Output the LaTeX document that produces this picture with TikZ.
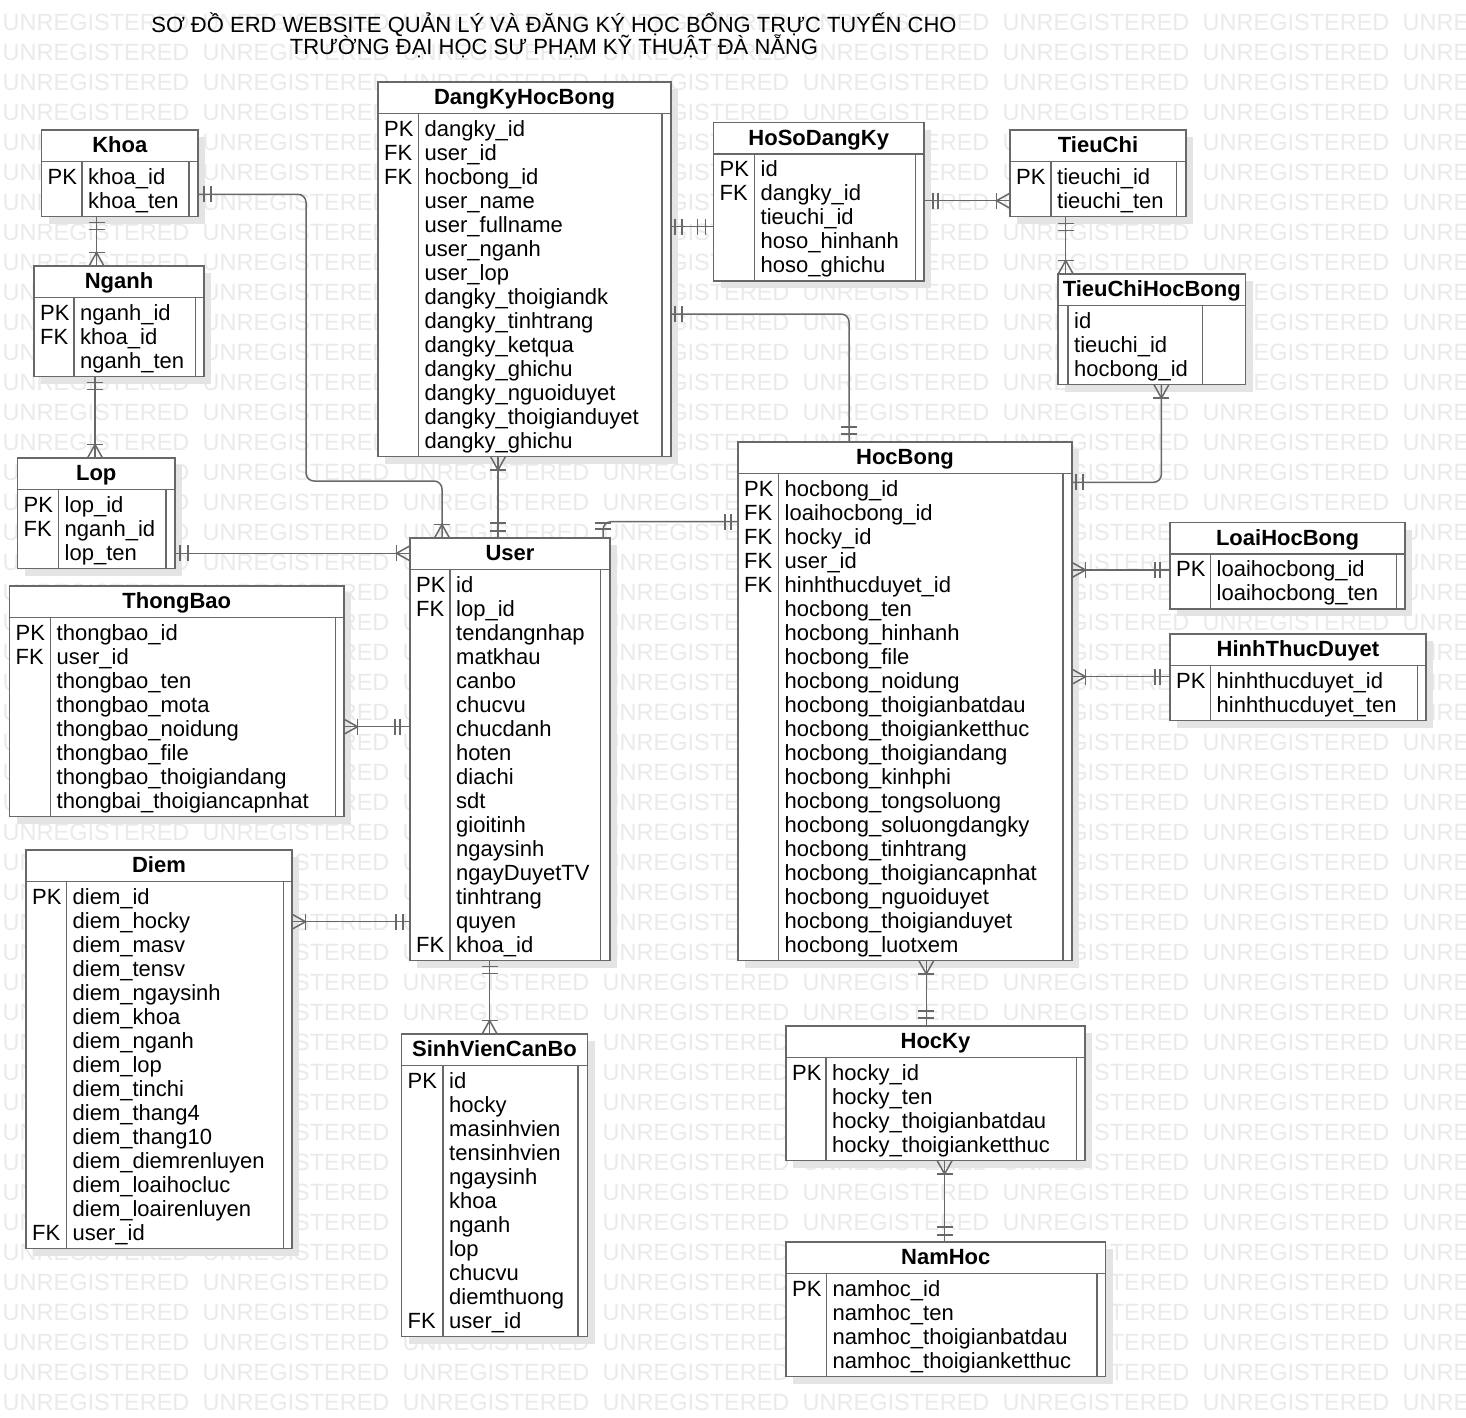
\documentclass[tikz,border=0pt]{standalone}
\usepackage{fontspec}
\setmainfont{Liberation Sans}
\usetikzlibrary{calc}

\definecolor{linec}{HTML}{686868}
\definecolor{shadowc}{HTML}{E4E4E4}
\definecolor{wmc}{HTML}{EAEAEA}

\pgfdeclarelayer{wmark}
\pgfdeclarelayer{shade}
\pgfsetlayers{wmark,shade,main}

\tikzset{
  conn/.style={draw=linec, line width=1.5pt},
  tblbox/.style={draw=linec, fill=white, line width=1.5pt, rectangle, inner sep=0pt, outer sep=0pt},
  tblline/.style={draw=linec, line width=1.5pt},
  hdr/.style={font=\fontsize{22}{24}\selectfont\bfseries, inner sep=0pt, anchor=base},
  fld/.style={font=\fontsize{22}{24}\selectfont, inner sep=0pt, anchor=base west},
  wm/.style={font=\fontsize{23.5}{24}\selectfont, text=wmc, inner sep=0pt, anchor=base west},
  ttl/.style={font=\fontsize{22}{24}\selectfont, inner sep=0pt, anchor=base},
}

% #1 name, #2 left, #3 top, #4 right, #5 key divider x, #6 inner right x,
% #7 title, #8 number of rows, #9 rows as key/field
\newcommand\erdtable[9]{%
  \pgfmathsetmacro\tbot{#3+38.5+24*#8}%
  \begin{pgfonlayer}{shade}
    \fill[shadowc] (#2+7,#3+7) rectangle (#4+7,\tbot+7);
  \end{pgfonlayer}
  \node[tblbox, anchor=north west, minimum width={#4-#2}, minimum height={\tbot-#3}] (#1) at (#2,#3) {};
  \draw[tblline] (#2,#3+31.5) -- (#4,#3+31.5)
                 (#5,#3+31.5) -- (#5,\tbot)
                 (#6,#3+31.5) -- (#6,\tbot);
  \node[hdr] (#1-title) at ({(#2+#4)/2},#3+22.5) {#7};
  \foreach \k/\f [count=\i from 0] in {#9} {
    \node[fld] (#1-key-\i) at (#2+6,#3+54+24*\i) {\k};
    \node[fld] (#1-col-\i) at (#5+6,#3+54+24*\i) {\f};
  }%
}

% mandatory-one end: two bars at distances #3 and #4 from the entity border
\newcommand\onemark[4]{%
  \begin{scope}[shift={(#1)}, rotate=#2]
    \draw[conn] (#3,-8) -- (#3,8) (#4,-8) -- (#4,8);
  \end{scope}}

% one-or-many end: crow's foot with a bar
\newcommand\manymark[2]{%
  \begin{scope}[shift={(#1)}, rotate=#2]
    \draw[conn] (13.5,-8) -- (13.5,8);
    \draw[conn] (0,-7.5) -- (13.5,0) -- (0,7.5);
  \end{scope}}

\begin{document}
\begin{tikzpicture}[x=1pt,y=-1pt]
\useasboundingbox (0,0) rectangle (1466,1417);

% background and watermark rows
\begin{pgfonlayer}{wmark}
  \fill[white] (0,0) rectangle (1466,1417);
  \begin{scope}
    \clip (0,0) rectangle (1466,1417);
    \foreach \r in {0,...,46}{
      \foreach \c in {0,...,7}{
        \node[wm] (wm-\r-\c) at (2.5+200*\c, 30.9+30*\r) {UNREGISTERED};
      }
    }
  \end{scope}
\end{pgfonlayer}

% title
\node[ttl] (title1) at (554,32.5) {SƠ ĐỒ ERD WEBSITE QUẢN LÝ VÀ ĐĂNG KÝ HỌC BỔNG TRỰC TUYẾN CHO};
\node[ttl] (title2) at (554,54) {TRƯỜNG ĐẠI HỌC SƯ PHẠM KỸ THUẬT ĐÀ NẴNG};

% entities
\erdtable{khoa}{41.5}{130}{198}{82}{189}{Khoa}{2}{PK/khoa\_id, {}/khoa\_ten}
\erdtable{nganh}{34}{266}{204}{74}{195.5}{Nganh}{3}{PK/nganh\_id, FK/khoa\_id, {}/nganh\_ten}
\erdtable{lop}{17.5}{458}{175}{58.5}{166}{Lop}{3}{PK/lop\_id, FK/nganh\_id, {}/lop\_ten}
\erdtable{dkhb}{378}{82}{671}{418.5}{662}{DangKyHocBong}{14}{PK/dangky\_id, FK/user\_id, FK/hocbong\_id,
  {}/user\_name, {}/user\_fullname, {}/user\_nganh, {}/user\_lop, {}/dangky\_thoigiandk,
  {}/dangky\_tinhtrang, {}/dangky\_ketqua, {}/dangky\_ghichu, {}/dangky\_nguoiduyet,
  {}/dangky\_thoigianduyet, {}/dangky\_ghichu}
\erdtable{hoso}{713.5}{122.5}{924}{754.5}{915.5}{HoSoDangKy}{5}{PK/id, FK/dangky\_id, {}/tieuchi\_id,
  {}/hoso\_hinhanh, {}/hoso\_ghichu}
\erdtable{tieuchi}{1010}{130}{1186}{1051}{1176.5}{TieuChi}{2}{PK/tieuchi\_id, {}/tieuchi\_ten}
\erdtable{tchb}{1058}{274}{1245.5}{1068}{1202.5}{TieuChiHocBong}{3}{{}/id, {}/tieuchi\_id, {}/hocbong\_id}
\erdtable{hocbong}{738}{442}{1072}{778.5}{1063}{HocBong}{20}{PK/hocbong\_id, FK/loaihocbong\_id,
  FK/hocky\_id, FK/user\_id, FK/hinhthucduyet\_id, {}/hocbong\_ten, {}/hocbong\_hinhanh,
  {}/hocbong\_file, {}/hocbong\_noidung, {}/hocbong\_thoigianbatdau, {}/hocbong\_thoigianketthuc,
  {}/hocbong\_thoigiandang, {}/hocbong\_kinhphi, {}/hocbong\_tongsoluong, {}/hocbong\_soluongdangky,
  {}/hocbong\_tinhtrang, {}/hocbong\_thoigiancapnhat, {}/hocbong\_nguoiduyet,
  {}/hocbong\_thoigianduyet, {}/hocbong\_luotxem}
\erdtable{user}{410}{538}{610}{450}{600.5}{User}{16}{PK/id, FK/lop\_id, {}/tendangnhap, {}/matkhau,
  {}/canbo, {}/chucvu, {}/chucdanh, {}/hoten, {}/diachi, {}/sdt, {}/gioitinh, {}/ngaysinh,
  {}/ngayDuyetTV, {}/tinhtrang, {}/quyen, FK/khoa\_id}
\erdtable{loaihb}{1170}{522.5}{1405}{1210.5}{1396.5}{LoaiHocBong}{2}{PK/loaihocbong\_id, {}/loaihocbong\_ten}
\erdtable{htd}{1170}{634}{1426}{1210.5}{1417.5}{HinhThucDuyet}{2}{PK/hinhthucduyet\_id, {}/hinhthucduyet\_ten}
\erdtable{thongbao}{9.5}{586}{344}{50.5}{335.5}{ThongBao}{8}{PK/thongbao\_id, FK/user\_id,
  {}/thongbao\_ten, {}/thongbao\_mota, {}/thongbao\_noidung, {}/thongbao\_file,
  {}/thongbao\_thoigiandang, {}/thongbai\_thoigiancapnhat}
\erdtable{diem}{26}{850}{292}{66.5}{283.5}{Diem}{15}{PK/diem\_id, {}/diem\_hocky, {}/diem\_masv,
  {}/diem\_tensv, {}/diem\_ngaysinh, {}/diem\_khoa, {}/diem\_nganh, {}/diem\_lop, {}/diem\_tinchi,
  {}/diem\_thang4, {}/diem\_thang10, {}/diem\_diemrenluyen, {}/diem\_loaihocluc,
  {}/diem\_loairenluyen, FK/user\_id}
\erdtable{svcb}{401.5}{1034}{587.5}{443}{578}{SinhVienCanBo}{11}{PK/id, {}/hocky, {}/masinhvien,
  {}/tensinhvien, {}/ngaysinh, {}/khoa, {}/nganh, {}/lop, {}/chucvu, {}/diemthuong, FK/user\_id}
\erdtable{hocky}{786}{1026}{1085}{826}{1076.5}{HocKy}{4}{PK/hocky\_id, {}/hocky\_ten,
  {}/hocky\_thoigianbatdau, {}/hocky\_thoigianketthuc}
\erdtable{namhoc}{786}{1242}{1105.5}{826.5}{1097}{NamHoc}{4}{PK/namhoc\_id, {}/namhoc\_ten,
  {}/namhoc\_thoigianbatdau, {}/namhoc\_thoigianketthuc}

% connector end points on the entity borders
\coordinate (c1a)  at ($(khoa.north east)+(0,64.3)$);
\coordinate (c1b)  at ($(user.north west)+(32,0)$);
\coordinate (c2a)  at ($(khoa.south west)+(55,0)$);
\coordinate (c2b)  at ($(nganh.north west)+(62.5,0)$);
\coordinate (c3a)  at ($(nganh.south west)+(61,0)$);
\coordinate (c3b)  at ($(lop.north west)+(77.5,0)$);
\coordinate (c4a)  at ($(lop.north east)+(0,95.3)$);
\coordinate (c4b)  at ($(user.north west)+(0,15.3)$);
\coordinate (c5a)  at ($(dkhb.south west)+(120,0)$);
\coordinate (c5b)  at ($(user.north west)+(88,0)$);
\coordinate (c6a)  at ($(dkhb.north east)+(0,144.7)$);
\coordinate (c6b)  at ($(hoso.north west)+(0,104.2)$);
\coordinate (c7a)  at ($(hoso.north east)+(0,78.2)$);
\coordinate (c7b)  at ($(tieuchi.north west)+(0,70.7)$);
\coordinate (c8a)  at ($(tieuchi.south west)+(55.7,0)$);
\coordinate (c8b)  at ($(tchb.north west)+(7.7,0)$);
\coordinate (c9a)  at ($(tchb.south west)+(103.4,0)$);
\coordinate (c9b)  at ($(hocbong.north east)+(0,40.3)$);
\coordinate (c10a) at ($(dkhb.north east)+(0,232)$);
\coordinate (c10b) at ($(hocbong.north west)+(111,0)$);
\coordinate (c11a) at ($(user.north west)+(193,0)$);
\coordinate (c11b) at ($(hocbong.north west)+(0,79.7)$);
\coordinate (c12a) at ($(hocbong.north east)+(0,128)$);
\coordinate (c12b) at ($(loaihb.north west)+(0,47.5)$);
\coordinate (c13a) at ($(hocbong.north east)+(0,234.7)$);
\coordinate (c13b) at ($(htd.north west)+(0,42.7)$);
\coordinate (c14a) at ($(user.north west)+(0,188.7)$);
\coordinate (c14b) at ($(thongbao.north east)+(0,140.7)$);
\coordinate (c15a) at ($(user.north west)+(0,383.7)$);
\coordinate (c15b) at ($(diem.north east)+(0,71.7)$);
\coordinate (c16a) at ($(user.south west)+(79.6,0)$);
\coordinate (c16b) at ($(svcb.north west)+(88.1,0)$);
\coordinate (c17a) at ($(hocbong.south west)+(188.3,0)$);
\coordinate (c17b) at ($(hocky.north west)+(140.3,0)$);
\coordinate (c18a) at ($(hocky.south west)+(158.6,0)$);
\coordinate (c18b) at ($(namhoc.north west)+(158.6,0)$);

% relationships
\draw[conn, rounded corners=8pt] (c1a) -| (306,481) -| (c1b);
\draw[conn] (c2a) -- (c2b);
\draw[conn] (c3a) -- (c3b);
\draw[conn] (c4a) -- (c4b);
\draw[conn] (c5a) -- (c5b);
\draw[conn] (c6a) -- (c6b);
\draw[conn] (c7a) -- (c7b);
\draw[conn] (c8a) -- (c8b);
\draw[conn, rounded corners=8pt] (c9a) |- (c9b);
\draw[conn, rounded corners=8pt] (c10a) -| (c10b);
\draw[conn, rounded corners=8pt] (c11a) |- (c11b);
\draw[conn] (c12a) -- (c12b);
\draw[conn] (c13a) -- (c13b);
\draw[conn] (c14a) -- (c14b);
\draw[conn] (c15a) -- (c15b);
\draw[conn] (c16a) -- (c16b);
\draw[conn] (c17a) -- (c17b);
\draw[conn] (c18a) -- (c18b);

% cardinality marks
\onemark{c1a}{0}{6}{13}     \manymark{c1b}{90}
\onemark{c2a}{-90}{6}{13}   \manymark{c2b}{90}
\onemark{c3a}{-90}{6}{13}   \manymark{c3b}{90}
\onemark{c4a}{0}{5}{13}     \manymark{c4b}{180}
\manymark{c5a}{-90}         \onemark{c5b}{90}{7}{15}
\onemark{c6a}{0}{4}{11}     \onemark{c6b}{180}{8}{16}
\onemark{c7a}{0}{9}{14}     \manymark{c7b}{180}
\onemark{c8a}{-90}{7}{14}   \manymark{c8b}{90}
\manymark{c9a}{-90}         \onemark{c9b}{0}{4}{11}
\onemark{c10a}{0}{4}{11}    \onemark{c10b}{90}{8}{15}
\onemark{c11a}{90}{9}{15}   \onemark{c11b}{180}{7}{13}
\manymark{c12a}{0}          \onemark{c12b}{180}{10}{15}
\manymark{c13a}{0}          \onemark{c13b}{180}{10}{15}
\onemark{c14a}{180}{10}{15} \manymark{c14b}{0}
\onemark{c15a}{180}{7}{14}  \manymark{c15b}{0}
\onemark{c16a}{-90}{6}{13}  \manymark{c16b}{90}
\manymark{c17a}{-90}        \onemark{c17b}{90}{8}{15}
\manymark{c18a}{-90}        \onemark{c18b}{90}{7}{15}
\end{tikzpicture}
\end{document}
